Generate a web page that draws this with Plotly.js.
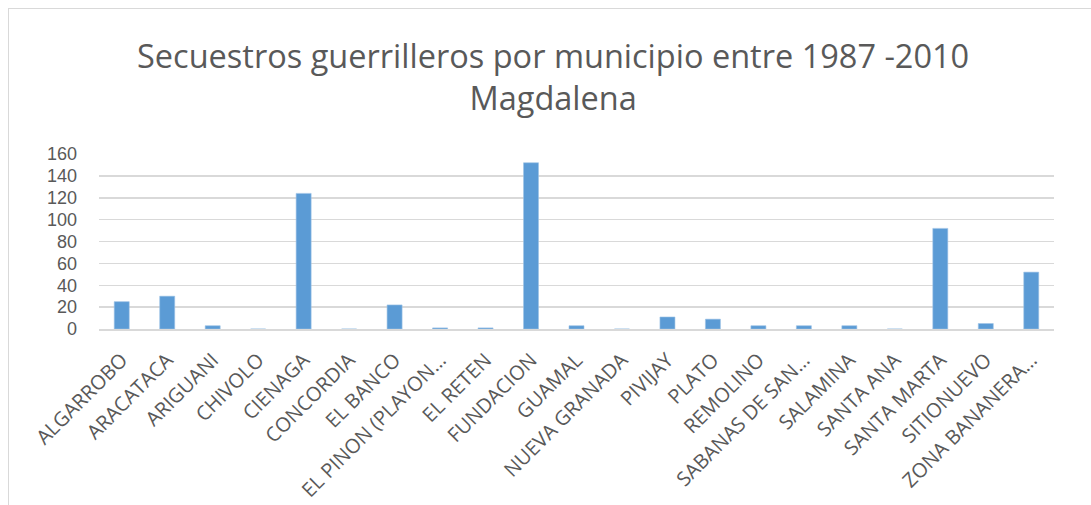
<!DOCTYPE html>
<html>
<head>
<meta charset="utf-8">
<script src="https://cdn.plot.ly/plotly-3.0.1.min.js"></script>
<style>
  html, body { margin: 0; padding: 0; background: #ffffff; overflow: hidden; }
  #frame { position: absolute; left: 8px; top: 8px; width: 1100px; height: 520px; border: 1px solid #d9d9d9; box-sizing: border-box; }
  #chart { position: absolute; left: 0; top: 0; width: 1091px; height: 505px; }
</style>
</head>
<body>
<div id="frame"></div>
<div id="chart"></div>
<script>
const municipios = [
  "ALGARROBO", "ARACATACA", "ARIGUANI", "CHIVOLO", "CIENAGA", "CONCORDIA",
  "EL BANCO", "EL PINON (PLAYON…", "EL RETEN", "FUNDACION", "GUAMAL",
  "NUEVA GRANADA", "PIVIJAY", "PLATO", "REMOLINO", "SABANAS DE SAN…",
  "SALAMINA", "SANTA ANA", "SANTA MARTA", "SITIONUEVO", "ZONA BANANERA…"
];
const secuestros = [25, 30, 3, 0, 124, 0, 22, 1, 1, 152, 3, 0, 11, 9, 3, 3, 3, 0, 92, 5, 52];
const yTicks = [0, 20, 40, 60, 80, 100, 120, 140, 160];
const titulo = "Secuestros guerrilleros por municipio entre 1987 -2010<br>Magdalena";

const trace = {
  type: "bar",
  x: municipios,
  y: secuestros,
  marker: { color: "#5B9BD5", line: { color: "#9DC3E6", width: 0.6 } },
  hoverinfo: "x+y"
};

const layout = {
  width: 1091,
  height: 505,
  paper_bgcolor: "rgba(0,0,0,0)",
  plot_bgcolor: "rgba(0,0,0,0)",
  margin: { l: 99, r: 37, t: 154, b: 176 },
  bargap: 0.67,
  showlegend: false,
  title: {
    text: titulo,
    font: { family: "Open Sans, sans-serif", size: 32.5, color: "#595959" },
    x: 0.507, xanchor: "center", xref: "container",
    y: 0.866, yanchor: "top", yref: "container"
  },
  xaxis: {
    type: "category",
    tickangle: -45,
    tickfont: { family: "Open Sans, sans-serif", size: 20, color: "#595959" },
    showline: true, linecolor: "#d9d9d9", linewidth: 1.5,
    ticks: "", showgrid: false, automargin: false, ticklabelstandoff: 10
  },
  yaxis: {
    range: [0, 160],
    tickvals: yTicks,
    ticktext: yTicks.map(String),
    tickfont: { family: "Liberation Sans, Arial, sans-serif", size: 18, color: "#595959" },
    showgrid: true, gridcolor: "#d9d9d9", gridwidth: 1.5,
    zeroline: false, showline: false, ticks: "", ticklabelstandoff: 21, automargin: false
  }
};

Plotly.newPlot("chart", [trace], layout, { displayModeBar: false, staticPlot: true });
</script>
</body>
</html>
